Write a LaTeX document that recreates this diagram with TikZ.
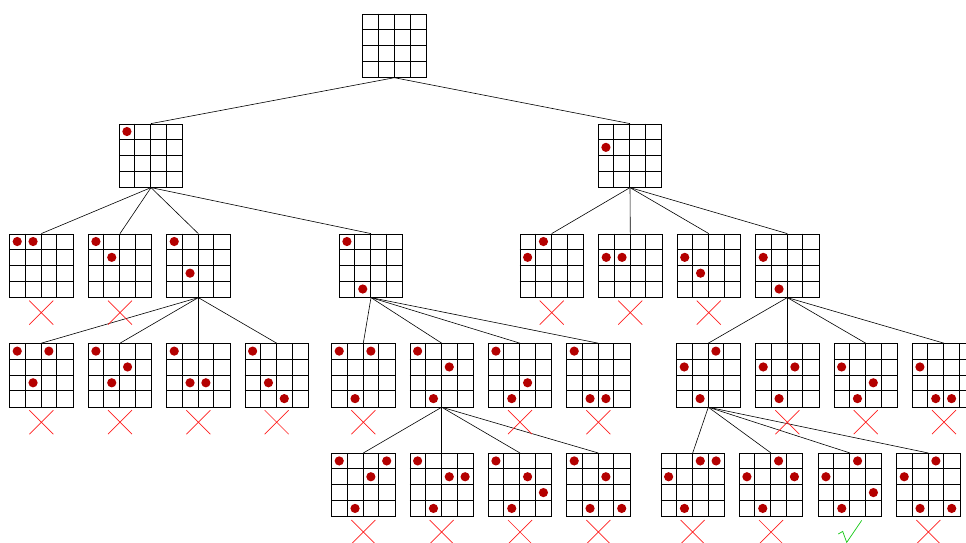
\documentclass[tikz,border=0pt]{standalone}
\usepackage{tikz}
\usetikzlibrary{calc}

\definecolor{rossoregina}{RGB}{180,0,0}
\definecolor{rossocroce}{RGB}{255,30,30}
\definecolor{verdespunta}{RGB}{20,200,20}

% Scacchiera 4x4: nome, centro, regine (colonna/riga)
\newcommand{\scacchiera}[3]{%
  \node[board] (#1) at (#2) {};
  \foreach \k in {1,2,3} {
    \draw[griglia] ($(#1.north west)+(\k*15.83,0)$) -- ($(#1.south west)+(\k*15.83,0)$);
    \draw[griglia] ($(#1.north west)+(0,\k*15.83)$) -- ($(#1.north east)+(0,\k*15.83)$);
  }
  \foreach \c/\r in {#3}
    \fill[rossoregina] ($(#1.north west)+(\c*15.83+7.92,\r*15.83+7.92)$) circle (4.6);
}
% Croce sotto una scacchiera scartata
\newcommand{\scartata}[1]{%
  \draw[xmark] ($(#1.south)+(-12,3)$) -- ++(24,24) ($(#1.south)+(12,3)$) -- ++(-24,24);
}

\begin{document}
\begin{tikzpicture}[x=1pt, y=-1pt,
    board/.style={draw, line width=0.7pt, fill=white, minimum size=63.3pt, inner sep=0pt},
    griglia/.style={line width=0.7pt},
    ramo/.style={line width=0.6pt},
    xmark/.style={draw=rossocroce, line width=0.7pt}]
  \clip (0,0) rectangle (966,543);

  % Radice
  \node[board] (R) at (394.4,45.7) {};
  \foreach \k in {1,2,3} {
    \draw[griglia] ($(R.north west)+(\k*15.83,0)$) -- ($(R.south west)+(\k*15.83,0)$);
    \draw[griglia] ($(R.north west)+(0,\k*15.83)$) -- ($(R.north east)+(0,\k*15.83)$);
  }

  % Primo livello
  \scacchiera{A}{151,155.6}{0/0}
  \scacchiera{B}{630,155.6}{0/1}

  % Secondo livello
  \scacchiera{A1}{41.3,265.6}{0/0,1/0}
  \scacchiera{A2}{120,265.6}{0/0,1/1}
  \scacchiera{A3}{198.3,265.6}{0/0,1/2}
  \scacchiera{A4}{371,265.6}{0/0,1/3}
  \scacchiera{B1}{551.7,265.6}{0/1,1/0}
  \scacchiera{B2}{630.3,265.6}{0/1,1/1}
  \scacchiera{B3}{708.8,265.6}{0/1,1/2}
  \scacchiera{B4}{787.3,265.6}{0/1,1/3}

  % Terzo livello
  \scacchiera{A31}{41.3,375.2}{0/0,1/2,2/0}
  \scacchiera{A32}{120,375.2}{0/0,1/2,2/1}
  \scacchiera{A33}{198.3,375.2}{0/0,1/2,2/2}
  \scacchiera{A34}{276.7,375.2}{0/0,1/2,2/3}
  \scacchiera{A41}{363.3,375.2}{0/0,1/3,2/0}
  \scacchiera{A42}{441.7,375.2}{0/0,1/3,2/1}
  \scacchiera{A43}{520,375.2}{0/0,1/3,2/2}
  \scacchiera{A44}{598.3,375.2}{0/0,1/3,2/3}
  \scacchiera{B41}{708.3,375.2}{0/1,1/3,2/0}
  \scacchiera{B42}{787.3,375.2}{0/1,1/3,2/1}
  \scacchiera{B43}{865.7,375.2}{0/1,1/3,2/2}
  \scacchiera{B44}{944,375.2}{0/1,1/3,2/3}

  % Quarto livello
  \scacchiera{A421}{363.3,485}{0/0,1/3,2/1,3/0}
  \scacchiera{A422}{441.7,485}{0/0,1/3,2/1,3/1}
  \scacchiera{A423}{520,485}{0/0,1/3,2/1,3/2}
  \scacchiera{A424}{598.3,485}{0/0,1/3,2/1,3/3}
  \scacchiera{B411}{692.7,485}{0/1,1/3,2/0,3/0}
  \scacchiera{B412}{771,485}{0/1,1/3,2/0,3/1}
  \scacchiera{B413}{850,485}{0/1,1/3,2/0,3/2}
  \scacchiera{B414}{928.3,485}{0/1,1/3,2/0,3/3}

  % Rami dell'albero
  \draw[ramo] (R.south) -- (A.north);
  \draw[ramo] (R.south) -- (B.north);
  \foreach \f in {A1,A2,A3,A4} \draw[ramo] (A.south) -- (\f.north);
  \foreach \f in {B1,B2,B3,B4} \draw[ramo] (B.south) -- (\f.north);
  \foreach \f in {A31,A32,A33,A34} \draw[ramo] (A3.south) -- (\f.north);
  \foreach \f in {A41,A42,A43,A44} \draw[ramo] (A4.south) -- (\f.north);
  \foreach \f in {B41,B42,B43,B44} \draw[ramo] (B4.south) -- (\f.north);
  \foreach \f in {A421,A422,A423,A424} \draw[ramo] (A42.south) -- (\f.north);
  \foreach \f in {B411,B412,B413,B414} \draw[ramo] (B41.south) -- (\f.north);

  % Scacchiere scartate
  \foreach \s in {A1,A2,B1,B2,B3,A31,A32,A33,A34,A41,A43,A44,B42,B43,B44,A421,A422,A423,A424,B411,B412,B414} {
    \scartata{\s}
  }

  % Soluzione trovata
  \draw[verdespunta, line width=0.7pt] ($(B413.south)+(-11.7,17)$) -- ++(4.4,-2.6) -- ++(4,11) -- ++(15,-22);
\end{tikzpicture}
\end{document}
